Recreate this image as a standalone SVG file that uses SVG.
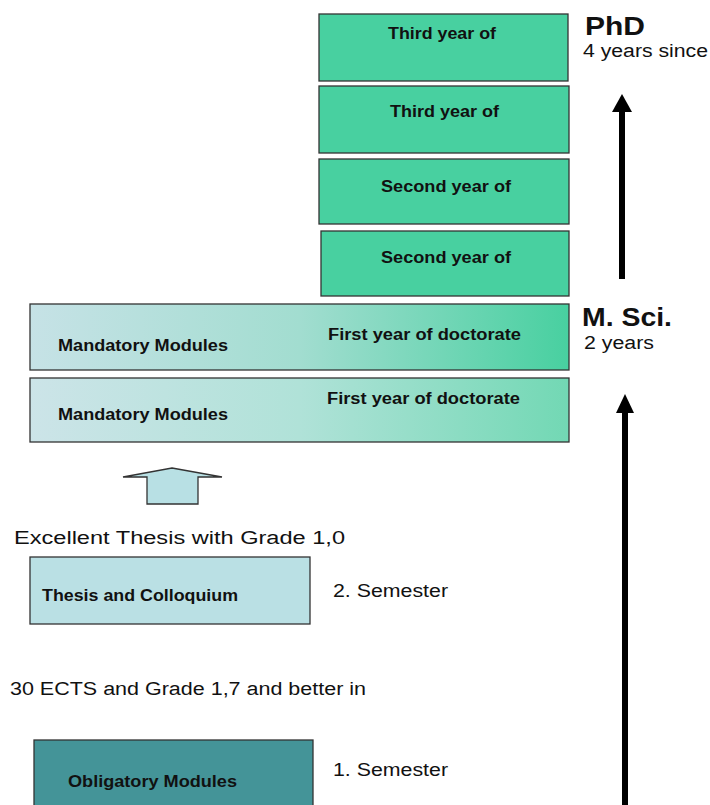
<svg xmlns="http://www.w3.org/2000/svg" width="710" height="805" viewBox="0 0 710 805">
<style>
.box{stroke:#333;stroke-width:1.3}
.g{fill:#48d0a0}
.bt{font-family:"Liberation Sans",Arial,sans-serif;font-weight:bold;font-size:16px;fill:#111}
.t{font-family:"Liberation Sans",Arial,sans-serif;font-size:18px;fill:#111}
.h{font-family:"Liberation Sans",Arial,sans-serif;font-weight:bold;font-size:26px;fill:#111}
.a{stroke:#000;stroke-width:6;fill:none}
</style>
<defs>
<linearGradient id="g1" x1="0" y1="0" x2="1" y2="0">
<stop offset="0" stop-color="#c6e2e6"/>
<stop offset="0.5" stop-color="#a2ddd0"/>
<stop offset="1" stop-color="#48d0a0"/>
</linearGradient>
<linearGradient id="g2" x1="0" y1="0" x2="1" y2="0">
<stop offset="0" stop-color="#cce4e8"/>
<stop offset="0.5" stop-color="#b0e2d8"/>
<stop offset="1" stop-color="#72d8b4"/>
</linearGradient>
</defs>
<g id="third1"><rect class="box g" x="319" y="14" width="249" height="67"/><text class="bt" x="388" y="39" textLength="108" lengthAdjust="spacingAndGlyphs">Third year of</text></g>
<g id="third2"><rect class="box g" x="319" y="86" width="250" height="67"/><text class="bt" x="390" y="117" textLength="109" lengthAdjust="spacingAndGlyphs">Third year of</text></g>
<g id="second1"><rect class="box g" x="319" y="159" width="250" height="65"/><text class="bt" x="381" y="192" textLength="130" lengthAdjust="spacingAndGlyphs">Second year of</text></g>
<g id="second2"><rect class="box g" x="321" y="231" width="248" height="65"/><text class="bt" x="381" y="263" textLength="130" lengthAdjust="spacingAndGlyphs">Second year of</text></g>
<g id="first1"><rect class="box" fill="url(#g1)" x="30" y="304" width="539" height="66"/><text class="bt" x="58" y="351" textLength="170" lengthAdjust="spacingAndGlyphs">Mandatory Modules</text><text class="bt" x="328" y="340" textLength="193" lengthAdjust="spacingAndGlyphs">First year of doctorate</text></g>
<g id="first2"><rect class="box" fill="url(#g2)" x="30" y="378" width="539" height="64"/><text class="bt" x="58" y="420" textLength="170" lengthAdjust="spacingAndGlyphs">Mandatory Modules</text><text class="bt" x="327" y="404" textLength="193" lengthAdjust="spacingAndGlyphs">First year of doctorate</text></g>
<g id="phd"><text class="h" x="585" y="35" textLength="60" lengthAdjust="spacingAndGlyphs">PhD</text><text class="t" x="583" y="57" textLength="125" lengthAdjust="spacingAndGlyphs">4 years since</text></g>
<g id="msci"><text class="h" x="582" y="326" textLength="90" lengthAdjust="spacingAndGlyphs">M. Sci.</text><text class="t" x="584" y="349" textLength="70" lengthAdjust="spacingAndGlyphs">2 years</text></g>
<g id="blockarrow"><polygon points="172,468 222,477 198,477 198,504 147,504 147,477 123,477" fill="#b8e0e4" stroke="#333" stroke-width="1.3"/></g>
<g id="excellent"><text class="t" x="14" y="544" textLength="331" lengthAdjust="spacingAndGlyphs">Excellent Thesis with Grade 1,0</text></g>
<g id="thesis"><rect class="box" fill="#bae0e4" x="30" y="557" width="280" height="67"/><text class="bt" x="42" y="601" textLength="196" lengthAdjust="spacingAndGlyphs">Thesis and Colloquium</text></g>
<g id="sem2"><text class="t" x="333" y="597" textLength="115" lengthAdjust="spacingAndGlyphs">2. Semester</text></g>
<g id="ects"><text class="t" x="10" y="695" textLength="356" lengthAdjust="spacingAndGlyphs">30 ECTS and Grade 1,7 and better in</text></g>
<g id="obligatory"><rect class="box" fill="#449498" x="34" y="740" width="279" height="70"/><text class="bt" x="68" y="787" textLength="169" lengthAdjust="spacingAndGlyphs">Obligatory Modules</text></g>
<g id="sem1"><text class="t" x="333" y="776" textLength="115" lengthAdjust="spacingAndGlyphs">1. Semester</text></g>
<g id="connectors">
<line class="a" x1="622" y1="279" x2="622" y2="108"/>
<polygon points="622,94 632,112 612,112" fill="#000"/>
<line class="a" x1="625" y1="805" x2="625" y2="408"/>
<polygon points="625,394 634,413 616,413" fill="#000"/>
</g>
</svg>
